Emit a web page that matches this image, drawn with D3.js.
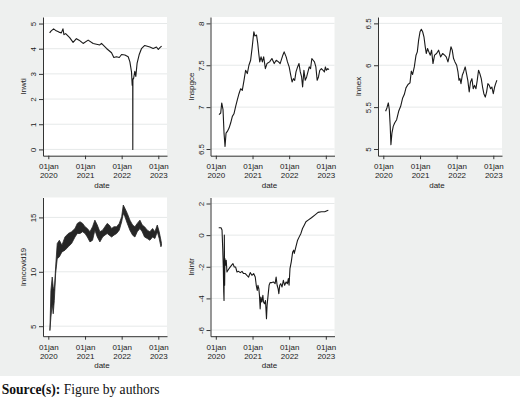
<!DOCTYPE html>
<html>
<head>
<meta charset="utf-8">
<script src="https://cdn.jsdelivr.net/npm/d3@7"></script>
<style>
body { margin: 0; background: #fff; }
svg text { font-family: "Liberation Sans", Arial, sans-serif; fill: #222; }
</style>
</head>
<body>
<div id="chart"></div>
<script>
var width = 520,
    height = 400;

// ******* series [date, value] ******* //
var lnwti = [
    ["2020-01-14", 4.63], ["2020-01-30", 4.71], ["2020-02-23", 4.79], ["2020-03-20", 4.71],
    ["2020-04-16", 4.66], ["2020-05-10", 4.63], ["2020-05-26", 4.79], ["2020-06-05", 4.56],
    ["2020-06-22", 4.60], ["2020-08-01", 4.44], ["2020-09-04", 4.25], ["2020-10-07", 4.40],
    ["2020-11-03", 4.34], ["2020-12-13", 4.21], ["2021-02-01", 4.34], ["2021-03-23", 4.21],
    ["2021-05-28", 4.15], ["2021-06-14", 4.21], ["2021-08-03", 4.01], ["2021-09-22", 3.84],
    ["2021-10-15", 3.65], ["2021-11-10", 3.68], ["2021-12-08", 3.65], ["2021-12-31", 3.77],
    ["2022-02-02", 3.75], ["2022-03-07", 3.68], ["2022-03-24", 3.48], ["2022-04-09", 3.08],
    ["2022-04-16", 2.55], ["2022-04-21", 2.60], ["2022-04-22", 0.00], ["2022-04-23", 2.80],
    ["2022-04-29", 2.80], ["2022-05-12", 3.10], ["2022-05-22", 2.90], ["2022-06-04", 3.43],
    ["2022-06-24", 3.76], ["2022-07-17", 4.00], ["2022-08-19", 4.13], ["2022-10-09", 4.07],
    ["2022-11-11", 4.01], ["2022-12-14", 4.07], ["2023-01-01", 3.97], ["2023-01-17", 4.04],
    ["2023-02-03", 4.10]
];

var lnspgce = [
    ["2020-02-02", 6.91], ["2020-02-19", 6.93], ["2020-02-29", 7.05], ["2020-03-13", 6.97],
    ["2020-03-23", 6.69], ["2020-04-02", 6.53], ["2020-04-12", 6.69], ["2020-04-25", 6.71],
    ["2020-05-12", 6.75], ["2020-05-28", 6.81], ["2020-06-14", 6.89], ["2020-06-30", 6.92],
    ["2020-07-17", 7.01], ["2020-08-03", 7.09], ["2020-08-19", 7.16], ["2020-09-05", 7.22],
    ["2020-09-21", 7.20], ["2020-10-08", 7.32], ["2020-10-24", 7.44], ["2020-11-10", 7.40],
    ["2020-11-26", 7.50], ["2020-12-13", 7.56], ["2020-12-29", 7.72], ["2021-01-14", 7.90],
    ["2021-01-24", 7.85], ["2021-02-10", 7.86], ["2021-02-22", 7.76], ["2021-03-04", 7.64],
    ["2021-03-14", 7.54], ["2021-03-27", 7.60], ["2021-04-09", 7.54], ["2021-04-22", 7.60],
    ["2021-05-09", 7.46], ["2021-05-25", 7.52], ["2021-06-20", 7.54], ["2021-07-13", 7.58],
    ["2021-08-05", 7.52], ["2021-08-25", 7.56], ["2021-09-17", 7.54], ["2021-10-03", 7.52],
    ["2021-10-30", 7.62], ["2021-11-12", 7.66], ["2021-12-02", 7.60], ["2021-12-15", 7.54],
    ["2022-01-01", 7.48], ["2022-01-17", 7.38], ["2022-01-30", 7.30], ["2022-02-12", 7.34],
    ["2022-02-25", 7.32], ["2022-03-10", 7.42], ["2022-03-26", 7.48], ["2022-04-09", 7.52],
    ["2022-04-22", 7.42], ["2022-05-05", 7.36], ["2022-05-15", 7.24], ["2022-05-28", 7.44],
    ["2022-06-10", 7.32], ["2022-06-24", 7.36], ["2022-07-07", 7.42], ["2022-07-20", 7.48],
    ["2022-08-02", 7.46], ["2022-08-15", 7.58], ["2022-08-28", 7.56], ["2022-09-10", 7.54],
    ["2022-09-24", 7.48], ["2022-10-07", 7.32], ["2022-10-20", 7.36], ["2022-11-02", 7.44],
    ["2022-11-18", 7.46], ["2022-12-05", 7.44], ["2022-12-18", 7.42], ["2022-12-28", 7.48],
    ["2023-01-07", 7.44], ["2023-01-20", 7.46], ["2023-02-02", 7.45]
];

var lnnex = [
    ["2020-01-24", 5.45], ["2020-02-06", 5.49], ["2020-02-20", 5.55], ["2020-03-01", 5.47],
    ["2020-03-10", 5.27], ["2020-03-17", 5.05], ["2020-03-27", 5.19], ["2020-04-09", 5.27],
    ["2020-04-23", 5.31], ["2020-05-13", 5.35], ["2020-06-02", 5.45], ["2020-06-22", 5.51],
    ["2020-07-12", 5.61], ["2020-07-28", 5.65], ["2020-08-14", 5.73], ["2020-09-03", 5.77],
    ["2020-09-23", 5.79], ["2020-10-06", 5.93], ["2020-10-19", 5.89], ["2020-11-05", 5.98],
    ["2020-11-22", 6.12], ["2020-12-05", 6.16], ["2020-12-18", 6.30], ["2021-01-01", 6.40],
    ["2021-01-14", 6.43], ["2021-01-27", 6.40], ["2021-02-09", 6.34], ["2021-02-22", 6.22],
    ["2021-03-04", 6.14], ["2021-03-17", 6.20], ["2021-03-30", 6.16], ["2021-04-13", 6.12],
    ["2021-04-26", 6.18], ["2021-05-10", 6.02], ["2021-05-26", 6.12], ["2021-06-15", 6.14],
    ["2021-07-05", 6.18], ["2021-07-25", 6.10], ["2021-08-14", 6.14], ["2021-09-03", 6.12],
    ["2021-09-19", 6.10], ["2021-10-06", 6.04], ["2021-10-22", 6.12], ["2021-11-05", 6.22],
    ["2021-11-18", 6.18], ["2021-12-01", 6.08], ["2021-12-15", 6.04], ["2022-01-01", 6.00],
    ["2022-01-14", 5.92], ["2022-01-24", 5.82], ["2022-02-03", 5.84], ["2022-02-13", 5.78],
    ["2022-02-26", 5.88], ["2022-03-11", 5.92], ["2022-03-27", 5.98], ["2022-04-09", 5.90],
    ["2022-04-22", 5.82], ["2022-05-06", 5.68], ["2022-05-19", 5.80], ["2022-06-02", 5.84],
    ["2022-06-15", 5.72], ["2022-06-28", 5.76], ["2022-07-12", 5.72], ["2022-07-25", 5.82],
    ["2022-08-07", 5.94], ["2022-08-20", 5.90], ["2022-09-03", 5.84], ["2022-09-16", 5.74],
    ["2022-09-29", 5.66], ["2022-10-13", 5.62], ["2022-10-26", 5.68], ["2022-11-08", 5.78],
    ["2022-11-22", 5.76], ["2022-12-05", 5.72], ["2022-12-18", 5.74], ["2023-01-01", 5.66],
    ["2023-01-14", 5.74], ["2023-01-27", 5.79], ["2023-02-06", 5.82]
];

// covid series swings every week, kept as [date, low, high] envelope
var lnncovid19 = [
    ["2020-01-17", 4.60, 4.60], ["2020-01-27", 5.83, 8.29], ["2020-02-09", 7.06, 9.52],
    ["2020-02-19", 6.14, 8.60], ["2020-03-01", 7.37, 8.30], ["2020-03-14", 9.83, 10.45],
    ["2020-03-30", 11.20, 12.60], ["2020-04-20", 11.37, 12.90], ["2020-05-16", 11.83, 12.45],
    ["2020-06-15", 11.98, 13.20], ["2020-07-18", 12.30, 13.52], ["2020-08-20", 12.60, 13.68],
    ["2020-09-23", 13.20, 13.98], ["2020-10-16", 13.52, 14.45], ["2020-11-12", 13.52, 14.60],
    ["2020-12-08", 13.68, 14.45], ["2021-01-01", 13.52, 14.14], ["2021-01-24", 13.20, 13.98],
    ["2021-02-19", 12.75, 13.68], ["2021-03-17", 12.90, 14.14], ["2021-04-09", 13.83, 14.75],
    ["2021-05-03", 13.20, 14.30], ["2021-05-29", 12.75, 13.68], ["2021-06-25", 13.20, 13.83],
    ["2021-07-18", 13.37, 14.14], ["2021-08-10", 13.52, 14.45], ["2021-08-30", 13.37, 14.30],
    ["2021-09-23", 13.20, 13.98], ["2021-10-16", 13.37, 14.14], ["2021-11-12", 13.52, 14.14],
    ["2021-12-08", 13.83, 14.45], ["2022-01-01", 14.60, 15.06], ["2022-01-17", 15.37, 16.14],
    ["2022-02-03", 15.06, 15.83], ["2022-02-26", 14.45, 15.37], ["2022-03-24", 13.83, 14.75],
    ["2022-04-20", 13.37, 14.30], ["2022-05-13", 13.20, 14.14], ["2022-06-05", 13.68, 14.45],
    ["2022-07-02", 13.98, 14.75], ["2022-07-25", 13.68, 14.30], ["2022-08-17", 13.20, 14.14],
    ["2022-09-13", 13.06, 13.83], ["2022-10-09", 12.90, 13.68], ["2022-11-05", 13.20, 13.98],
    ["2022-11-28", 13.06, 13.68], ["2022-12-22", 13.68, 14.30], ["2023-01-10", 13.06, 13.68],
    ["2023-01-27", 12.30, 12.90], ["2023-02-02", 12.45, 12.60]
];

var lnintr = [
    ["2020-01-30", 0.47], ["2020-02-22", 0.47], ["2020-03-03", 0.32], ["2020-03-10", -0.85],
    ["2020-03-16", -2.10], ["2020-03-20", -3.60], ["2020-03-23", -4.13], ["2020-03-26", 0.00],
    ["2020-03-29", -3.17], ["2020-04-01", -1.48], ["2020-04-08", -1.90], ["2020-04-14", -1.59],
    ["2020-04-21", -2.33], ["2020-05-01", -2.22], ["2020-05-17", -2.07], ["2020-06-07", -1.90],
    ["2020-06-20", -1.80], ["2020-07-03", -2.01], ["2020-07-16", -2.01], ["2020-07-30", -2.33],
    ["2020-08-15", -2.29], ["2020-09-01", -2.37], ["2020-09-18", -2.29], ["2020-10-04", -2.43],
    ["2020-10-21", -2.43], ["2020-11-06", -2.54], ["2020-11-23", -2.65], ["2020-12-09", -2.37],
    ["2020-12-26", -2.54], ["2021-01-12", -2.43], ["2021-01-28", -2.65], ["2021-02-07", -3.17],
    ["2021-02-17", -3.49], ["2021-02-24", -3.17], ["2021-03-05", -3.39], ["2021-03-11", -3.81],
    ["2021-03-18", -4.66], ["2021-03-25", -3.92], ["2021-04-04", -4.23], ["2021-04-14", -3.81],
    ["2021-04-20", -4.23], ["2021-04-30", -4.34], ["2021-05-10", -4.13], ["2021-05-20", -5.29],
    ["2021-05-26", -4.44], ["2021-06-05", -3.81], ["2021-06-15", -3.17], ["2021-06-25", -3.00],
    ["2021-07-12", -3.00], ["2021-07-28", -2.96], ["2021-08-14", -3.07], ["2021-08-24", -2.65],
    ["2021-09-03", -3.17], ["2021-09-13", -3.39], ["2021-09-20", -3.70], ["2021-09-29", -3.17],
    ["2021-10-09", -3.07], ["2021-10-22", -3.28], ["2021-11-04", -2.86], ["2021-11-17", -3.17],
    ["2021-12-01", -2.96], ["2021-12-14", -3.07], ["2021-12-24", -2.75], ["2021-12-31", -3.17],
    ["2022-01-09", -2.12], ["2022-01-22", -1.69], ["2022-02-05", -1.06], ["2022-02-15", -0.95],
    ["2022-02-21", -1.16], ["2022-03-09", -0.74], ["2022-03-26", -0.32], ["2022-04-11", -0.11],
    ["2022-04-28", 0.11], ["2022-05-14", 0.42], ["2022-05-31", 0.63], ["2022-06-17", 0.85],
    ["2022-07-09", 0.95], ["2022-08-11", 1.10], ["2022-09-13", 1.27], ["2022-10-16", 1.44],
    ["2022-11-18", 1.48], ["2022-12-21", 1.48], ["2023-01-13", 1.54], ["2023-01-26", 1.57]
];

// ******* tick labels ******* //
var yearTicks = ["2020-01-01", "2021-01-01", "2022-01-01", "2023-01-01"];
var wtiTicks = [0, 1, 2, 3, 4, 5];
var spgceTicks = [6.5, 7, 7.5, 8];
var nexTicks = [5, 5.5, 6, 6.5];
var covidTicks = [5, 10, 15];
var intrTicks = [-6, -4, -2, 0, 2];

var parseDate = d3.timeParse("%Y-%m-%d");

// panel geometry (Stata graph combine, 3 columns)
var colX = [0, 167.5, 335],
    rowY = [0, 180.5];
var plotL = 43, plotR = 167, plotT = 17, plotB = 155.7;

var panels = [
    {name: "lnwti",      data: lnwti,      ticks: wtiTicks,   domain: [-0.25, 5.26],  col: 0, row: 0},
    {name: "lnspgce",    data: lnspgce,    ticks: spgceTicks, domain: [6.42, 8.076],  col: 1, row: 0},
    {name: "lnnex",      data: lnnex,      ticks: nexTicks,   domain: [4.92, 6.576],  col: 2, row: 0},
    {name: "lnncovid19", data: lnncovid19, ticks: covidTicks, domain: [4.08, 16.83],  col: 0, row: 1, band: true},
    {name: "lnintr",     data: lnintr,     ticks: intrTicks,  domain: [-6.39, 2.38],  col: 1, row: 1}
];

var svg = d3.select("#chart")
    .append("svg")
    .attr("width", width)
    .attr("height", height);

svg.append("rect")
    .attr("width", width)
    .attr("height", 376)
    .attr("fill", "#eef0ef");

panels.forEach(function(p) {
    var g = svg.append("g")
        .attr("transform", "translate(" + colX[p.col] + "," + rowY[p.row] + ")");

    var x = d3.scaleTime()
        .domain([parseDate("2020-01-01"), parseDate("2023-01-01")])
        .range([48.3, 158.3]);
    x.domain([x.invert(plotL), x.invert(plotR)]).range([plotL, plotR]);

    var y = d3.scaleLinear().domain(p.domain).range([plotB, plotT]);

    g.append("rect")
        .attr("x", plotL).attr("y", plotT)
        .attr("width", plotR - plotL).attr("height", plotB - plotT)
        .attr("fill", "#fff");

    // grid
    g.append("g").selectAll("line")
        .data(p.ticks)
        .enter().append("line")
        .attr("x1", plotL).attr("x2", plotR)
        .attr("y1", function(d) { return y(d); })
        .attr("y2", function(d) { return y(d); })
        .attr("stroke", "#e6e9e9")
        .attr("stroke-width", 1);

    if (p.band) {
        var area = d3.area()
            .x(function(d) { return x(parseDate(d[0])); })
            .y0(function(d) { return y(d[1]); })
            .y1(function(d) { return y(d[2]); });
        g.append("path")
            .datum(p.data)
            .attr("d", area)
            .attr("fill", "#262626")
            .attr("stroke", "#262626")
            .attr("stroke-width", 0.8)
            .attr("stroke-linejoin", "round");
    } else {
        var line = d3.line()
            .x(function(d) { return x(parseDate(d[0])); })
            .y(function(d) { return y(d[1]); });
        g.append("path")
            .datum(p.data)
            .attr("d", line)
            .attr("fill", "none")
            .attr("stroke", "#1a1a1a")
            .attr("stroke-width", 1.1)
            .attr("stroke-linejoin", "round");
    }

    // y axis
    var ya = g.append("g")
        .attr("transform", "translate(" + plotL + ",0)")
        .call(d3.axisLeft(y).tickValues(p.ticks).tickSize(4).tickSizeOuter(0).tickFormat(String));
    ya.selectAll("path, line").attr("stroke", "#333");
    ya.selectAll(".tick text")
        .attr("transform", "rotate(-90)")
        .attr("x", 0).attr("y", -7).attr("dy", 0)
        .attr("text-anchor", "middle")
        .style("font-size", "8px");

    // x axis
    var xa = g.append("g")
        .attr("transform", "translate(0," + plotB + ")")
        .call(d3.axisBottom(x).tickValues(yearTicks.map(parseDate)).tickSize(3.5).tickSizeOuter(0));
    xa.selectAll("path, line").attr("stroke", "#333");
    xa.selectAll(".tick text").each(function(d) {
        var t = d3.select(this).text(null).attr("y", 0).attr("dy", 0).style("font-size", "8px");
        t.append("tspan").attr("x", 0).attr("y", 13.8).text("01jan");
        t.append("tspan").attr("x", 0).attr("y", 22.8).text(d3.timeFormat("%Y")(d));
    });

    g.append("text")
        .attr("x", 102).attr("y", plotB + 31.9)
        .attr("text-anchor", "middle")
        .style("font-size", "8px")
        .text("date");

    g.append("text")
        .attr("transform", "translate(23.5," + ((plotT + plotB) / 2) + ") rotate(-90)")
        .attr("dy", "0.35em")
        .attr("text-anchor", "middle")
        .style("font-size", "8px")
        .text(p.name);
});

var caption = svg.append("text")
    .attr("x", 1.7).attr("y", 393.5)
    .style("font-family", "'Liberation Serif', 'Times New Roman', serif")
    .style("font-size", "13.6px")
    .style("fill", "#111");
caption.append("tspan").style("font-weight", "bold").text("Source(s):");
caption.append("tspan").text(" Figure by authors");
</script>
</body>
</html>
